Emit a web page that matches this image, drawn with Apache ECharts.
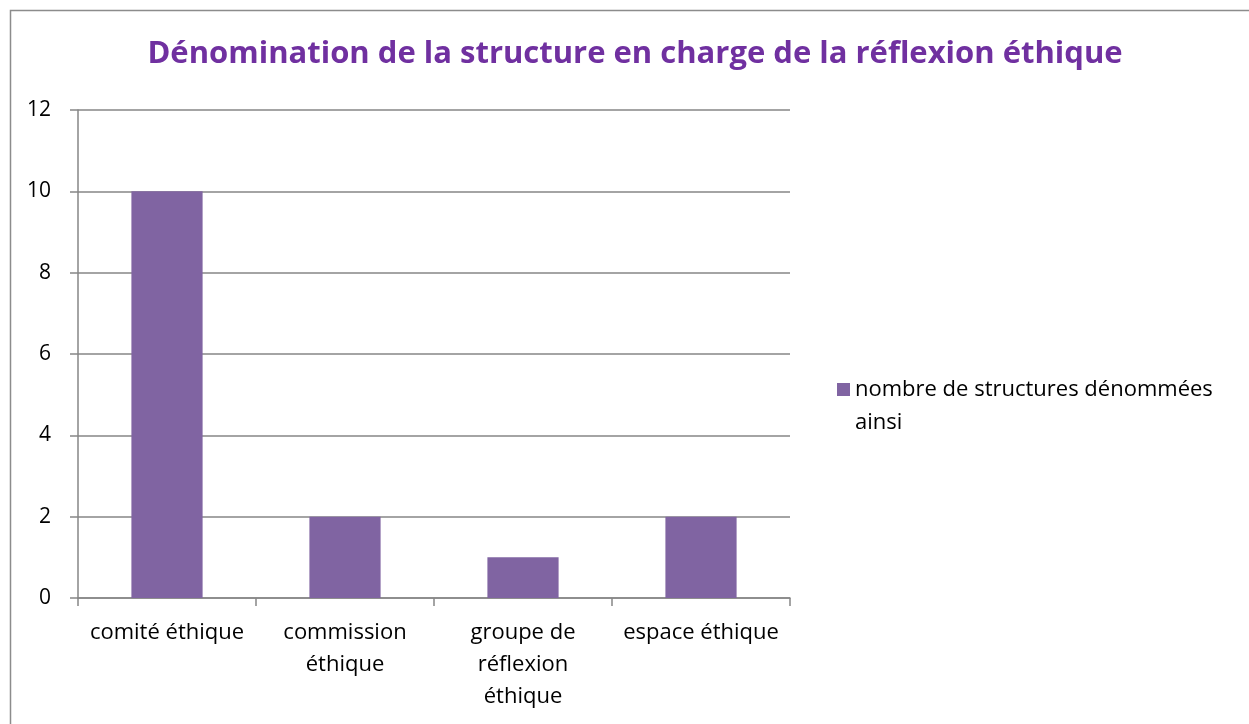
<!DOCTYPE html>
<html>
<head>
<meta charset="utf-8">
<script src="https://cdn.jsdelivr.net/npm/echarts@6/dist/echarts.min.js"></script>
<style>
  html, body { margin: 0; padding: 0; background: #fff; }
  #chart { width: 1249px; height: 724px; }
</style>
</head>
<body>
<div id="chart"></div>
<script>
// données
var titre = 'Dénomination de la structure en charge de la réflexion éthique';
var categories = ['comité éthique', 'commission\néthique', 'groupe de\nréflexion\néthique', 'espace éthique'];
var valeurs = [10, 2, 1, 2];
var nomSerie = 'nombre de structures dénommées ainsi';

var police = '"Open Sans", "Noto Sans", sans-serif';
var chart = echarts.init(document.getElementById('chart'));
var option = {
    animation: false,
    color: ['#8064A2'],
    graphic: [{
        type: 'rect',
        shape: { x: 10.5, y: 10.5, width: 1260, height: 740 },
        style: { fill: 'none', stroke: '#8c8c8c', lineWidth: 1.5 }
    }],
    title: {
        text: titre,
        left: 630,
        textAlign: 'center',
        top: 34,
        textStyle: { color: '#7030A0', fontSize: 31, fontWeight: 'bold', fontFamily: police }
    },
    legend: {
        orient: 'vertical',
        left: 832,
        top: 335,
        itemWidth: 13,
        itemHeight: 13,
        icon: 'rect',
        data: [nomSerie],
        // ligne vide en tête pour aligner le carré sur la première ligne
        formatter: function (n) { return '\n' + n.replace(' ainsi', '\nainsi'); },
        textStyle: { fontSize: 22, color: '#000', fontFamily: police, lineHeight: 33 }
    },
    grid: { left: 78, top: 110, width: 712, height: 488, containLabel: false },
    xAxis: {
        type: 'category',
        data: categories,
        axisLine: { lineStyle: { color: '#868686', width: 1.5 } },
        axisTick: { show: true, length: 8, lineStyle: { color: '#868686', width: 1.5 } },
        axisLabel: { color: '#000', fontSize: 22, fontFamily: police, lineHeight: 32, margin: 19, interval: 0 }
    },
    yAxis: {
        type: 'value',
        min: 0,
        max: 12,
        interval: 2,
        axisLine: { show: true, lineStyle: { color: '#868686', width: 1.5 } },
        axisTick: { show: true, length: 8, lineStyle: { color: '#868686', width: 1.5 } },
        axisLabel: { color: '#000', fontSize: 21, fontFamily: police, margin: 27 },
        splitLine: { lineStyle: { color: '#868686', width: 1.5 } }
    },
    series: [{
        name: nomSerie,
        type: 'bar',
        data: valeurs,
        barCategoryGap: '60%'
    }]
};
chart.setOption(option);
</script>
</body>
</html>
